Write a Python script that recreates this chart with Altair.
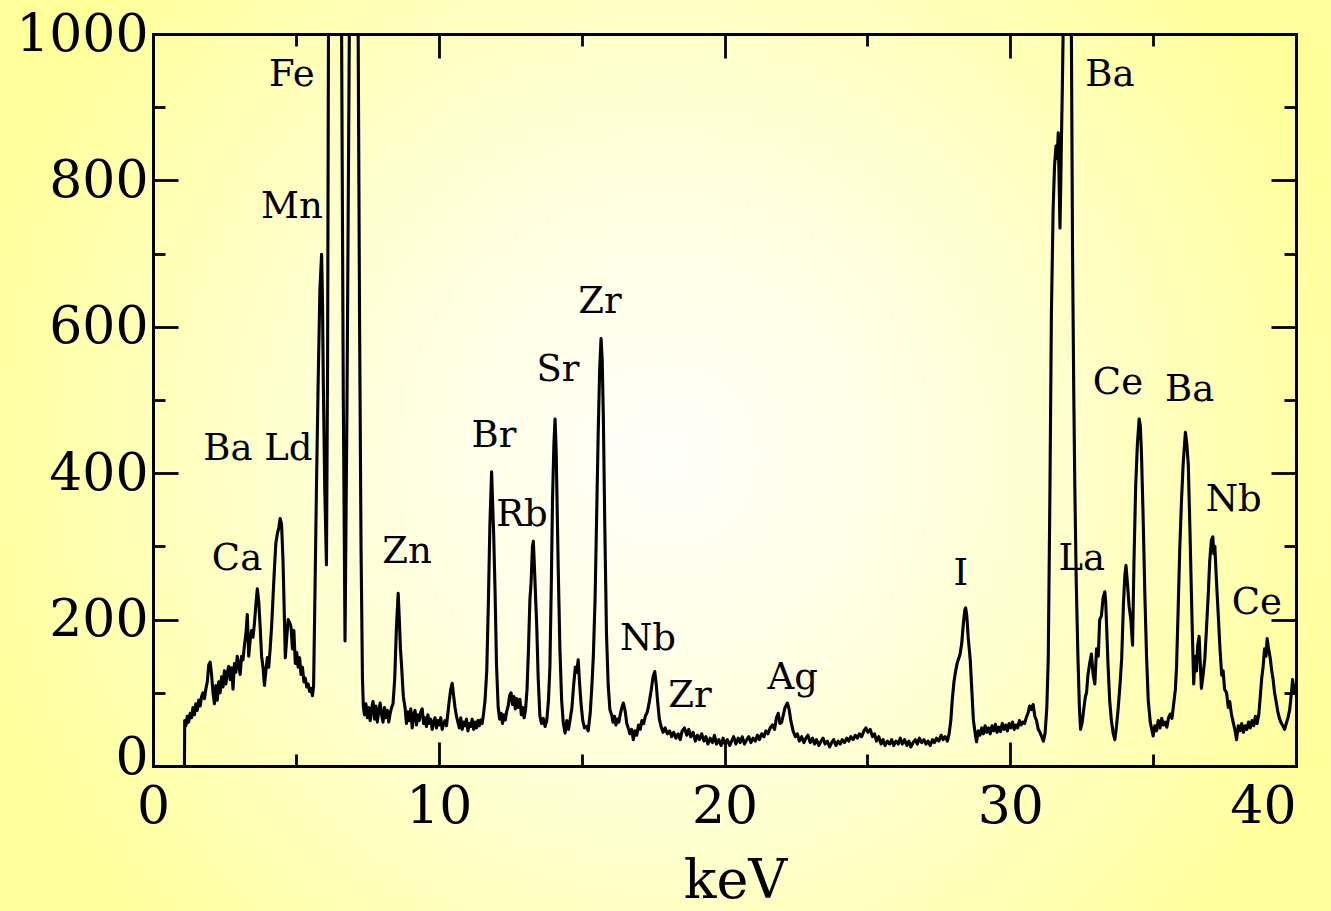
import altair as alt
import pandas as pd

W, H = 1143, 732
FONT = "DejaVu Serif"

# ---- spectrum: (keV, counts) ----
seg_low = [(1.10, 0), (1.11, 62), (1.15, 55), (1.20, 68), (1.25, 60), (1.30, 72), (1.35, 66), (1.40, 80),
           (1.45, 70), (1.50, 85), (1.55, 76), (1.60, 90), (1.65, 82), (1.70, 95), (1.75, 100), (1.80, 92),
           (1.85, 105), (1.90, 115), (1.95, 138), (2.00, 142), (2.05, 125), (2.10, 100), (2.15, 85), (2.20, 110),
           (2.25, 90), (2.30, 115), (2.35, 100), (2.40, 122), (2.45, 108), (2.50, 130), (2.55, 112), (2.60, 128),
           (2.65, 136), (2.70, 118), (2.75, 134), (2.80, 105), (2.85, 140), (2.90, 128), (2.95, 150), (3.00, 138),
           (3.05, 125), (3.10, 150), (3.15, 145), (3.20, 165), (3.25, 180), (3.30, 207), (3.35, 150), (3.40, 172),
           (3.45, 185), (3.50, 176), (3.55, 195), (3.60, 220), (3.65, 242), (3.70, 225), (3.75, 190), (3.80, 150),
           (3.85, 135), (3.90, 110), (3.95, 130), (4.00, 148), (4.05, 135), (4.10, 160), (4.15, 190), (4.20, 230),
           (4.25, 270), (4.30, 305), (4.35, 317), (4.40, 325), (4.45, 338), (4.50, 330), (4.55, 280), (4.60, 200),
           (4.63, 148), (4.68, 175), (4.73, 200), (4.78, 196), (4.83, 190), (4.88, 160), (4.93, 185), (4.98, 140),
           (5.03, 155), (5.08, 135), (5.13, 148), (5.18, 125), (5.23, 135), (5.28, 115), (5.33, 120), (5.38, 108),
           (5.43, 112), (5.48, 102), (5.53, 106), (5.58, 96), (5.62, 110)]

seg_fe = [(5.66, 214), (5.72, 380), (5.78, 525), (5.84, 650), (5.90, 699), (5.93, 640), (5.96, 525), (6.01, 380),
          (6.07, 275), (6.11, 550), (6.14, 1000), (6.22, 2200), (6.40, 3500), (6.55, 2200), (6.60, 1000),
          (6.66, 500), (6.72, 171), (6.79, 500), (6.87, 1000), (6.95, 1700), (7.05, 1900), (7.12, 1600),
          (7.18, 1000), (7.23, 600), (7.28, 300), (7.33, 120), (7.36, 82)]

seg_zn = [(7.40, 70), (7.45, 85), (7.50, 66), (7.55, 80), (7.60, 62), (7.65, 78), (7.70, 88), (7.75, 64),
          (7.80, 82), (7.85, 60), (7.90, 75), (7.95, 86), (8.00, 70), (8.05, 60), (8.10, 80), (8.15, 66),
          (8.20, 76), (8.25, 60), (8.30, 72), (8.35, 80), (8.40, 85), (8.46, 120), (8.52, 190), (8.58, 236),
          (8.62, 200), (8.66, 160), (8.70, 136), (8.76, 95), (8.82, 80), (8.87, 58), (8.92, 74), (8.97, 62),
          (9.02, 78), (9.07, 52), (9.12, 70), (9.17, 76), (9.22, 56), (9.27, 70), (9.32, 62), (9.37, 74),
          (9.42, 78), (9.47, 58), (9.52, 66), (9.57, 54), (9.62, 70), (9.67, 58), (9.72, 64), (9.77, 50),
          (9.82, 60), (9.87, 66), (9.92, 52), (9.97, 62), (10.02, 56), (10.07, 66), (10.12, 50), (10.17, 58),
          (10.22, 62), (10.27, 55), (10.32, 72), (10.37, 90), (10.42, 105), (10.47, 113), (10.52, 96),
          (10.57, 80), (10.62, 68), (10.67, 60), (10.72, 52), (10.77, 66), (10.82, 50), (10.87, 60),
          (10.92, 55), (10.97, 64), (11.02, 48), (11.07, 58), (11.12, 54), (11.17, 64), (11.22, 50),
          (11.27, 60), (11.32, 52), (11.37, 62), (11.42, 55), (11.47, 63), (11.52, 58), (11.57, 72), (11.62, 90)]

seg_zr = [(11.68, 130), (11.74, 230), (11.79, 330), (11.85, 402), (11.88, 365), (11.92, 320), (11.97, 240),
          (12.02, 140), (12.08, 80), (12.13, 64), (12.18, 72), (12.23, 58), (12.28, 70), (12.33, 63),
          (12.38, 75), (12.43, 82), (12.48, 96), (12.53, 100), (12.58, 84), (12.63, 95), (12.68, 78),
          (12.73, 92), (12.78, 80), (12.84, 91), (12.89, 70), (12.94, 80), (12.99, 66), (13.04, 78),
          (13.09, 105), (13.14, 160), (13.19, 227), (13.23, 250), (13.28, 300), (13.31, 307), (13.35, 270),
          (13.39, 230), (13.43, 190), (13.48, 120), (13.54, 68), (13.60, 58), (13.66, 65), (13.72, 54),
          (13.78, 62), (13.84, 90), (13.89, 135), (13.94, 250), (13.98, 362), (14.03, 440), (14.07, 474),
          (14.11, 430), (14.15, 340), (14.18, 272), (14.24, 160), (14.30, 90), (14.36, 58), (14.42, 45),
          (14.48, 62), (14.54, 50), (14.60, 64), (14.66, 80), (14.72, 110), (14.78, 135), (14.83, 128),
          (14.88, 145), (14.93, 112), (14.98, 85), (15.04, 62), (15.10, 52), (15.17, 54), (15.23, 48),
          (15.30, 72), (15.36, 110), (15.41, 150), (15.47, 227), (15.53, 350), (15.58, 455), (15.63, 540),
          (15.68, 584), (15.72, 555), (15.76, 477), (15.81, 330), (15.87, 181), (15.93, 110), (15.99, 77),
          (16.05, 70), (16.10, 60), (16.15, 68), (16.20, 56), (16.25, 64), (16.30, 60), (16.36, 72),
          (16.41, 80), (16.46, 86), (16.52, 76), (16.58, 58), (16.63, 52), (16.69, 44), (16.75, 50),
          (16.81, 36), (16.87, 48), (16.93, 42), (16.99, 56), (17.05, 50), (17.11, 62), (17.17, 58),
          (17.23, 68), (17.30, 74), (17.37, 88), (17.44, 105), (17.50, 122), (17.56, 129), (17.61, 112),
          (17.66, 88), (17.72, 64), (17.78, 54), (17.85, 46), (17.92, 52), (18.00, 44)]

seg_ag = [(18.08, 48), (18.15, 40), (18.22, 46), (18.30, 38), (18.38, 44), (18.45, 36), (18.52, 48), (18.60, 52),
          (18.68, 42), (18.75, 50), (18.82, 40), (18.90, 46), (18.98, 34), (19.05, 42), (19.12, 36), (19.20, 44),
          (19.28, 34), (19.35, 40), (19.42, 30), (19.50, 38), (19.58, 32), (19.65, 42), (19.72, 30), (19.80, 36),
          (19.88, 28), (19.95, 38), (20.02, 30), (20.10, 36), (20.18, 28), (20.25, 34), (20.32, 40), (20.40, 30),
          (20.48, 38), (20.55, 32), (20.62, 40), (20.70, 30), (20.78, 36), (20.85, 40), (20.92, 32), (21.00, 38),
          (21.08, 34), (21.15, 42), (21.22, 36), (21.30, 44), (21.38, 40), (21.45, 48), (21.52, 44), (21.60, 52),
          (21.68, 56), (21.75, 50), (21.82, 66), (21.88, 72), (21.94, 58), (22.00, 60), (22.06, 70), (22.12, 80),
          (22.20, 86), (22.26, 78), (22.32, 62), (22.40, 48), (22.48, 40), (22.55, 44), (22.62, 34), (22.70, 40),
          (22.78, 32), (22.85, 38), (22.92, 42), (23.00, 32), (23.08, 38), (23.15, 30), (23.22, 36), (23.30, 28),
          (23.38, 34), (23.45, 38), (23.52, 30), (23.60, 34), (23.68, 26), (23.75, 32), (23.82, 36), (23.90, 28),
          (23.98, 34), (24.05, 30), (24.12, 36), (24.20, 32), (24.28, 38), (24.35, 34), (24.42, 40), (24.50, 36),
          (24.58, 42), (24.65, 38), (24.72, 44), (24.80, 40), (24.88, 48), (24.95, 52), (25.02, 46), (25.10, 50),
          (25.18, 40), (25.25, 44), (25.32, 34), (25.40, 40), (25.48, 30), (25.55, 36), (25.62, 28), (25.70, 34),
          (25.78, 30), (25.85, 36), (25.92, 28), (26.00, 34), (26.08, 30), (26.15, 38), (26.22, 30), (26.30, 36),
          (26.38, 28), (26.45, 34), (26.52, 26), (26.60, 32), (26.68, 36), (26.75, 30), (26.82, 38), (26.90, 32),
          (26.98, 36), (27.05, 30), (27.12, 34), (27.20, 28), (27.28, 36), (27.35, 32), (27.42, 38), (27.50, 34),
          (27.58, 42), (27.65, 36), (27.72, 40), (27.80, 34)]

seg_i = [(27.86, 44), (27.92, 62), (27.97, 90), (28.03, 115), (28.09, 130), (28.14, 140), (28.18, 145),
         (28.24, 152), (28.30, 167), (28.36, 195), (28.41, 213), (28.44, 216), (28.48, 205), (28.53, 175),
         (28.60, 145), (28.66, 100), (28.71, 63), (28.77, 45), (28.82, 33), (28.88, 48), (28.94, 42), (29.00, 52),
         (29.06, 44), (29.12, 55), (29.18, 46), (29.24, 52), (29.30, 44), (29.36, 55), (29.42, 48), (29.48, 57),
         (29.54, 46), (29.60, 53), (29.66, 47), (29.72, 58), (29.78, 50), (29.84, 56), (29.90, 48), (29.96, 58),
         (30.02, 52), (30.08, 60), (30.14, 50), (30.20, 56), (30.26, 52), (30.32, 62), (30.38, 56), (30.44, 60),
         (30.50, 58), (30.56, 66), (30.62, 72), (30.68, 82), (30.74, 77), (30.80, 84), (30.86, 68), (30.92, 62),
         (30.98, 50), (31.04, 46)]

seg_ba = [(31.10, 40), (31.16, 34), (31.22, 45), (31.28, 80), (31.33, 147), (31.39, 380), (31.44, 618),
          (31.50, 760), (31.55, 820), (31.60, 847), (31.64, 830), (31.68, 865), (31.71, 800), (31.74, 735),
          (31.77, 800), (31.79, 853), (31.82, 920), (31.85, 1000), (31.95, 1900), (32.05, 1900), (32.14, 1000),
          (32.18, 700), (32.22, 520), (32.26, 380), (32.31, 250), (32.37, 147), (32.42, 80), (32.46, 50),
          (32.52, 60), (32.58, 80), (32.63, 95), (32.67, 100), (32.72, 125), (32.78, 140), (32.84, 153),
          (32.90, 125), (32.96, 112), (33.02, 160), (33.08, 150), (33.13, 200), (33.19, 205), (33.25, 230),
          (33.31, 238), (33.34, 225), (33.37, 194), (33.42, 140), (33.48, 89), (33.54, 62), (33.60, 45),
          (33.66, 36), (33.72, 55), (33.78, 80), (33.84, 110), (33.90, 147), (33.96, 220), (34.01, 260),
          (34.05, 274), (34.10, 250), (34.16, 218), (34.22, 200), (34.28, 165), (34.33, 280), (34.39, 383),
          (34.45, 440), (34.51, 474), (34.55, 465), (34.59, 430), (34.65, 340), (34.71, 235), (34.77, 150),
          (34.83, 89), (34.90, 60), (35.00, 41), (35.06, 55), (35.12, 48), (35.18, 62), (35.24, 52), (35.30, 65),
          (35.36, 56), (35.42, 60), (35.48, 53), (35.54, 66), (35.60, 71), (35.66, 65), (35.72, 85), (35.78, 105),
          (35.82, 136), (35.88, 220), (35.93, 294), (35.99, 360), (36.05, 412), (36.10, 440), (36.13, 456),
          (36.18, 440), (36.23, 412), (36.29, 320), (36.34, 235), (36.38, 170), (36.42, 112), (36.47, 150),
          (36.52, 130), (36.56, 165), (36.61, 177), (36.65, 140), (36.69, 106), (36.75, 125), (36.81, 147),
          (36.87, 190), (36.93, 235), (36.98, 280), (37.04, 309), (37.09, 313), (37.12, 290), (37.16, 300),
          (37.22, 250), (37.28, 206), (37.34, 160), (37.40, 124), (37.45, 130), (37.50, 105), (37.57, 100),
          (37.63, 80), (37.68, 88), (37.74, 71), (37.80, 60), (37.86, 50), (37.92, 36), (37.98, 55), (38.04, 48),
          (38.10, 58), (38.16, 46), (38.22, 55), (38.28, 50), (38.34, 60), (38.40, 52), (38.46, 62), (38.52, 55),
          (38.58, 68), (38.64, 58), (38.70, 71), (38.75, 95), (38.80, 120), (38.85, 136), (38.90, 160),
          (38.95, 150), (38.99, 174), (39.04, 160), (39.10, 147), (39.15, 130), (39.20, 118), (39.25, 100),
          (39.30, 89), (39.36, 75), (39.42, 65), (39.48, 59), (39.54, 55), (39.60, 50), (39.66, 58), (39.72, 66),
          (39.78, 77), (39.84, 100), (39.88, 118), (39.92, 105), (39.97, 100), (40.00, 112)]

segments = [seg_low, seg_fe, seg_zn, seg_zr, seg_ag, seg_i, seg_ba]

# ---- element labels ----
label_text = ["Fe", "Mn", "Ba Ld", "Ca", "Zn", "Br", "Rb", "Sr", "Zr", "Nb", "Zr", "Ag",
              "I", "La", "Ba", "Ce", "Ba", "Nb", "Ce"]
label_kev = [4.86, 4.86, 3.67, 2.94, 8.89, 11.93, 12.91, 14.17, 15.64, 17.32, 18.79, 22.39,
             28.27, 32.50, 33.49, 33.77, 36.28, 37.82, 38.63]
label_cnt = [944, 763, 433, 283, 292, 451, 343, 541, 634, 173, 95, 120,
             262, 283, 944, 523, 513, 364, 222]

x_ticks = [0, 5, 10, 15, 20, 25, 30, 35, 40]
y_ticks = [0, 100, 200, 300, 400, 500, 600, 700, 800, 900, 1000]

spec_df = pd.DataFrame([{"kev": k, "counts": c} for seg in segments for k, c in seg])
lab_df = pd.DataFrame({"kev": label_kev, "counts": label_cnt, "label": label_text})

x_scale = alt.Scale(domain=[0, 40], nice=False, zero=False)
y_scale = alt.Scale(domain=[0, 1000], nice=False)

common_axis = dict(
    domainColor="black", domainWidth=3, domainCap="square",
    tickColor="black", tickWidth=2.8, grid=False, zindex=1,
    labelFont=FONT, labelFontSize=52, labelColor="black", format="d",
)

x_bottom = alt.Axis(
    orient="bottom", values=x_ticks, title="keV",
    labelExpr="datum.value % 10 == 0 ? datum.label : ''",
    tickSize={"expr": "datum.value % 10 == 0 ? -24 : -12"},
    labelPadding=39,
    labelAlign={"condition": {"test": "datum.value >= 40", "value": "right"}, "value": "center"},
    titleFont=FONT, titleFontSize=54, titleFontWeight="normal", titleColor="black",
    titleX=582, titleY=131, titleBaseline="alphabetic", titleAlign="center",
    **common_axis,
)
y_left = alt.Axis(
    orient="left", values=y_ticks, title="",
    labelExpr="datum.value % 200 == 0 ? datum.label : ''",
    tickSize={"expr": "datum.value % 200 == 0 ? -25 : -12"},
    labelPadding=30,
    labelOffset={"condition": {"test": "datum.value == 0", "value": -9}, "value": 0},
    **common_axis,
)
x_top = alt.Axis(
    orient="top", values=x_ticks, title="", labels=False,
    tickSize={"expr": "datum.value % 10 == 0 ? -24 : -12"},
    **common_axis,
)
y_right = alt.Axis(
    orient="right", values=y_ticks, title="", labels=False,
    tickSize={"expr": "datum.value % 200 == 0 ? -25 : -12"},
    **common_axis,
)

gradient = {
    "gradient": "radial",
    "x1": 0.5, "y1": 0.5, "r1": 0,
    "x2": 0.5, "y2": 0.5, "r2": 0.55,
    "stops": [
        {"offset": 0, "color": "#FFFFFA"},
        {"offset": 0.35, "color": "#FFFFE2"},
        {"offset": 1, "color": "#FFFF99"},
    ],
}

bg = alt.Chart(pd.DataFrame({"z": [0]})).mark_rect(color=gradient, clip=False).encode(
    x=alt.value(-153), x2=alt.value(W + 35), y=alt.value(-34), y2=alt.value(H + 145)
)

line = alt.Chart(spec_df).mark_line(color="black", strokeWidth=3.1, clip=True, strokeJoin="round").encode(
    x=alt.X("kev:Q", scale=x_scale, axis=x_bottom),
    y=alt.Y("counts:Q", scale=y_scale, axis=y_left),
    order=alt.Order("kev:Q"),
)

labels = alt.Chart(lab_df).mark_text(font=FONT, fontSize=37, color="black", baseline="middle").encode(
    x=alt.X("kev:Q", scale=x_scale),
    y=alt.Y("counts:Q", scale=y_scale),
    text="label:N",
)

frame = alt.Chart(spec_df).mark_line(opacity=0, clip=True).encode(
    x=alt.X("kev:Q", scale=x_scale, axis=x_top),
    y=alt.Y("counts:Q", scale=y_scale, axis=y_right),
    order=alt.Order("kev:Q"),
)

inner = alt.layer(bg, line, labels)
chart = alt.layer(inner, frame).resolve_axis(x="independent", y="independent").properties(
    width=W, height=H,
    autosize=alt.AutoSizeParams(type="none"),
    padding={"left": 153, "top": 34, "right": 35, "bottom": 145},
).configure(background="#FFFF99").configure_view(strokeWidth=0)

chart.save("out.html", embed_options={"renderer": "svg", "actions": False})
